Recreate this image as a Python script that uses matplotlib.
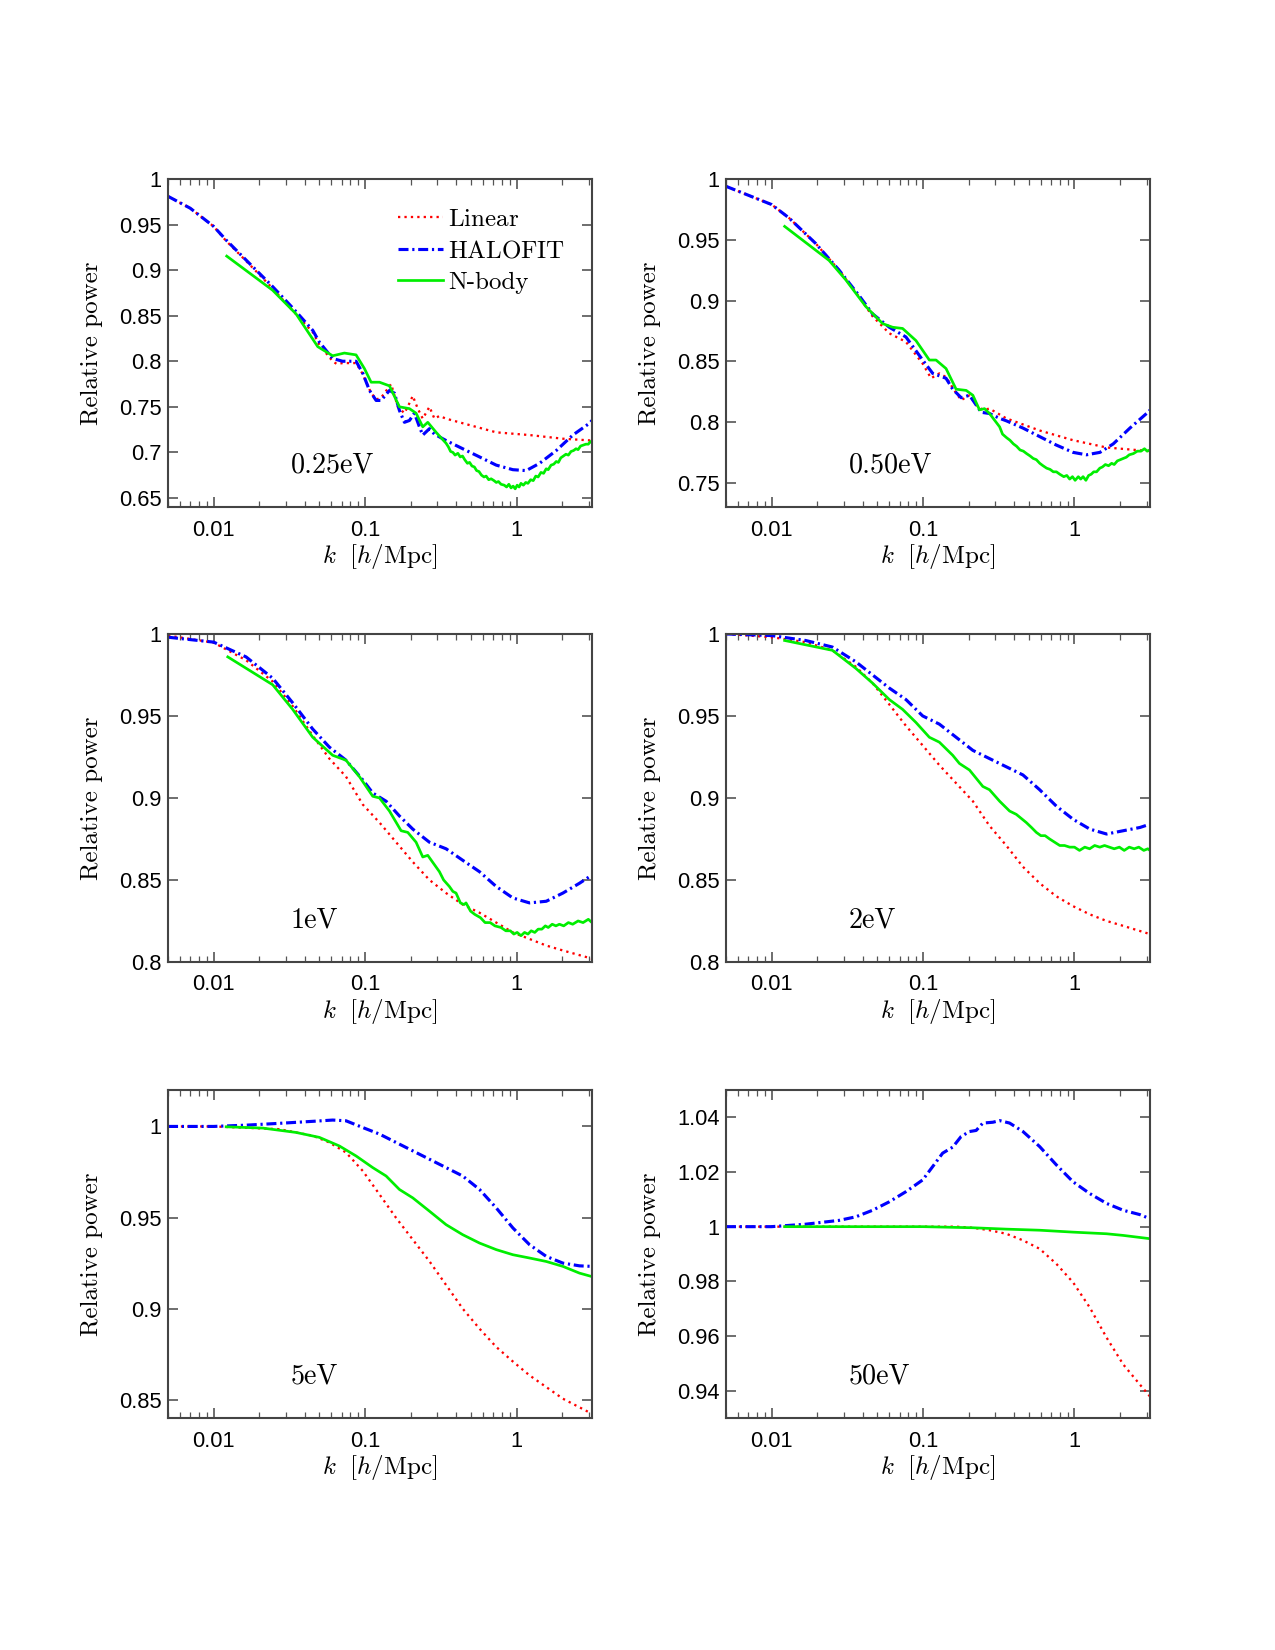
import matplotlib.pyplot as plt
from matplotlib.ticker import FixedLocator, FuncFormatter, LogLocator, NullFormatter

plt.rcParams['mathtext.fontset'] = 'cm'
plt.rcParams['font.family'] = ['Liberation Sans', 'DejaVu Sans']

# ---- 0.25 eV ----
k_lin_025 = [0.005, 0.007, 0.01, 0.0121, 0.0164, 0.0245, 0.0335, 0.0451, 0.0499, 0.0611, 0.065, 0.0711,
             0.0872, 0.0965, 0.1069, 0.1124, 0.1183, 0.1276, 0.1486, 0.1644, 0.1819, 0.1963, 0.2065,
             0.2228, 0.2404, 0.2661, 0.2871, 0.3098, 0.3427, 0.4412, 0.7345, 1.219, 2.024, 3.15]
p_lin_025 = [0.981, 0.968, 0.948, 0.932, 0.910, 0.880, 0.855, 0.832, 0.818, 0.800, 0.797, 0.798,
             0.798, 0.786, 0.769, 0.763, 0.758, 0.760, 0.775, 0.750, 0.743, 0.754, 0.762,
             0.748, 0.737, 0.750, 0.737, 0.740, 0.737, 0.732, 0.722, 0.719, 0.715, 0.713]
k_hf_025 = [0.005, 0.007, 0.01, 0.0121, 0.0164, 0.0245, 0.0335, 0.0451, 0.0499, 0.0611, 0.0711, 0.0872,
            0.0965, 0.1069, 0.1183, 0.1276, 0.1449, 0.1563, 0.1686, 0.1819, 0.1963, 0.2118, 0.2285,
            0.2404, 0.2661, 0.2871, 0.3427, 0.4412, 0.570, 0.7345, 0.9463, 1.159, 1.420, 1.829,
            2.355, 3.036, 3.15]
p_hf_025 = [0.981, 0.968, 0.948, 0.933, 0.911, 0.882, 0.858, 0.834, 0.821, 0.803, 0.800, 0.800,
            0.787, 0.768, 0.757, 0.757, 0.768, 0.765, 0.746, 0.733, 0.735, 0.743, 0.728,
            0.719, 0.726, 0.720, 0.713, 0.704, 0.695, 0.686, 0.681, 0.680, 0.688, 0.702,
            0.719, 0.732, 0.735]
k_nb_025 = [0.0122, 0.0245, 0.035, 0.0487, 0.0611, 0.073, 0.0872, 0.099, 0.1096, 0.1245, 0.1449,
            0.1686, 0.1963, 0.2172, 0.2404, 0.2594, 0.2945, 0.3427, 0.355, 0.367, 0.38, 0.393,
            0.41, 0.425, 0.44, 0.455, 0.474, 0.49, 0.508, 0.527, 0.545, 0.565, 0.587, 0.61,
            0.63, 0.655, 0.68, 0.71, 0.735, 0.76, 0.79, 0.83, 0.86, 0.89, 0.92, 0.95, 0.98,
            1.01, 1.04, 1.07, 1.11, 1.15, 1.19, 1.24, 1.29, 1.34, 1.39, 1.45, 1.51, 1.57,
            1.62, 1.69, 1.76, 1.83, 1.89, 1.96, 2.04, 2.12, 2.2, 2.29, 2.38, 2.47, 2.55,
            2.65, 2.76, 2.87, 2.98, 3.08, 3.15]
p_nb_025 = [0.9154, 0.878, 0.852, 0.816, 0.806, 0.809, 0.807, 0.792, 0.777, 0.777, 0.773,
            0.750, 0.748, 0.743, 0.728, 0.733, 0.722, 0.710, 0.706, 0.701, 0.700, 0.697,
            0.699, 0.695, 0.696, 0.692, 0.688, 0.689, 0.685, 0.684, 0.680, 0.679, 0.675, 0.673,
            0.674, 0.670, 0.671, 0.669, 0.667, 0.668, 0.665, 0.664, 0.662, 0.665, 0.661, 0.663, 0.660,
            0.664, 0.662, 0.666, 0.664, 0.667, 0.666, 0.670, 0.669, 0.674, 0.673, 0.678, 0.677, 0.682,
            0.681, 0.686, 0.687, 0.690, 0.689, 0.694, 0.696, 0.698, 0.697, 0.701, 0.702, 0.704, 0.703,
            0.707, 0.708, 0.709, 0.709, 0.712, 0.711]

# ---- 0.50 eV ----
k_lin_050 = [0.005, 0.01, 0.01303, 0.01954, 0.02791, 0.03786, 0.04643, 0.05989, 0.0771, 0.0995,
             0.113, 0.1282, 0.1419, 0.1612, 0.1786, 0.2028, 0.2244, 0.2483, 0.2748, 0.3546,
             0.5891, 0.9795, 1.63, 3.15]
p_lin_050 = [0.994, 0.979, 0.968, 0.947, 0.925, 0.903, 0.887, 0.873, 0.866, 0.848,
             0.836, 0.840, 0.837, 0.826, 0.818, 0.822, 0.814, 0.810, 0.811, 0.803,
             0.793, 0.785, 0.779, 0.776]
k_hf_050 = [0.005, 0.01, 0.01303, 0.01954, 0.02791, 0.03786, 0.04643, 0.05989, 0.0771, 0.0995,
            0.1159, 0.1419, 0.1571, 0.1786, 0.2028, 0.2244, 0.2421, 0.2748, 0.3206, 0.3546,
            0.4571, 0.5891, 0.7595, 0.9795, 1.201, 1.473, 1.804, 2.324, 3.12, 3.15]
p_hf_050 = [0.994, 0.979, 0.968, 0.947, 0.925, 0.904, 0.889, 0.878, 0.870, 0.851,
            0.840, 0.836, 0.827, 0.820, 0.822, 0.814, 0.808, 0.807, 0.803, 0.801,
            0.795, 0.788, 0.781, 0.775, 0.773, 0.775, 0.782, 0.795, 0.809, 0.810]
k_nb_050 = [0.0122, 0.02397, 0.0309, 0.04193, 0.05408, 0.06298, 0.07332, 0.08985, 0.1101, 0.1219,
            0.1419, 0.1654, 0.1928, 0.2134, 0.236, 0.2547, 0.2748, 0.3206, 0.335, 0.357, 0.375,
            0.395, 0.415, 0.437, 0.46, 0.483, 0.51, 0.534, 0.56, 0.59, 0.62, 0.655, 0.69,
            0.725, 0.76, 0.8, 0.85, 0.89, 0.93, 0.97, 1.01, 1.06, 1.1, 1.14, 1.19, 1.24,
            1.29, 1.34, 1.4, 1.47, 1.53, 1.6, 1.68, 1.76, 1.83, 1.92, 2.01, 2.1, 2.2, 2.3,
            2.45, 2.6, 2.75, 2.9, 3.02, 3.15]
p_nb_050 = [0.961, 0.933, 0.917, 0.895, 0.881, 0.878, 0.877, 0.867, 0.851, 0.851,
            0.844, 0.827, 0.826, 0.822, 0.810, 0.811, 0.807, 0.796, 0.790, 0.787, 0.785,
            0.782, 0.780, 0.777, 0.776, 0.774, 0.772, 0.770, 0.769, 0.766, 0.764, 0.762, 0.761,
            0.759, 0.759, 0.757, 0.755, 0.756, 0.753, 0.755, 0.752, 0.755, 0.753, 0.755, 0.752, 0.756,
            0.757, 0.759, 0.759, 0.762, 0.763, 0.765, 0.764, 0.766, 0.765, 0.768, 0.769, 0.770, 0.771, 0.773,
            0.774, 0.776, 0.776, 0.778, 0.776, 0.777]

# ---- 1 eV ----
k_lin_1 = [0.005, 0.01, 0.01637, 0.02454, 0.03326, 0.0451, 0.05808, 0.07482, 0.09654, 0.1245,
           0.1603, 0.2065, 0.2661, 0.3427, 0.4412, 0.570, 0.7345, 0.9463, 1.219, 1.571, 2.024, 3.15]
p_lin_1 = [0.999, 0.9947, 0.984, 0.971, 0.956, 0.938, 0.924, 0.913, 0.896, 0.885,
           0.873, 0.861, 0.850, 0.842, 0.835, 0.830, 0.824, 0.818, 0.814, 0.810, 0.807, 0.802]
k_hf_1 = [0.005, 0.01, 0.01637, 0.02454, 0.03326, 0.0451, 0.05808, 0.07482, 0.09654, 0.1124,
          0.1377, 0.1686, 0.2065, 0.2661, 0.3427, 0.4412, 0.570, 0.7345, 0.9463, 1.219, 1.571,
          2.024, 2.606, 3.15]
p_hf_1 = [0.998, 0.995, 0.986, 0.973, 0.958, 0.942, 0.931, 0.923, 0.911, 0.903,
          0.898, 0.889, 0.881, 0.873, 0.869, 0.862, 0.855, 0.846, 0.839, 0.836, 0.837,
          0.842, 0.848, 0.853]
k_nb_1 = [0.0124, 0.02454, 0.03326, 0.0451, 0.0611, 0.07482, 0.09175, 0.1124, 0.1245, 0.1449,
          0.1729, 0.1914, 0.2172, 0.2404, 0.2594, 0.3098, 0.33, 0.3604, 0.38, 0.3988, 0.426,
          0.45, 0.4641, 0.497, 0.53, 0.578, 0.62, 0.67, 0.72, 0.79, 0.85, 0.91, 0.96, 1.01,
          1.07, 1.13, 1.19, 1.25, 1.32, 1.39, 1.47, 1.55, 1.62, 1.72, 1.82, 1.92, 2.05,
          2.2, 2.35, 2.55, 2.75, 2.98, 3.15]
p_nb_1 = [0.986, 0.969, 0.954, 0.937, 0.926, 0.923, 0.913, 0.901, 0.900, 0.892,
          0.880, 0.879, 0.873, 0.864, 0.865, 0.855, 0.850, 0.846, 0.843, 0.842, 0.836,
          0.835, 0.836, 0.831, 0.829, 0.827, 0.824, 0.824, 0.822, 0.821, 0.819, 0.819, 0.817, 0.818,
          0.816, 0.818, 0.817, 0.819, 0.818, 0.820, 0.820, 0.822, 0.821, 0.823, 0.822, 0.823, 0.822,
          0.824, 0.823, 0.825, 0.824, 0.826, 0.824]

# ---- 2 eV ----
k_lin_2 = [0.005, 0.01, 0.01679, 0.02522, 0.036, 0.04643, 0.05989, 0.0771, 0.0995, 0.1282,
           0.1654, 0.2134, 0.2748, 0.3546, 0.4571, 0.5891, 0.7595, 0.9795, 1.263, 1.63, 2.099, 3.15]
p_lin_2 = [1.0, 0.998, 0.995, 0.990, 0.980, 0.970, 0.957, 0.944, 0.932, 0.920,
           0.909, 0.898, 0.883, 0.871, 0.858, 0.848, 0.840, 0.834, 0.829, 0.825, 0.822, 0.817]
k_hf_2 = [0.005, 0.01, 0.01679, 0.02522, 0.036, 0.04643, 0.05989, 0.0771, 0.0995, 0.1282,
          0.1654, 0.2134, 0.2748, 0.3546, 0.4571, 0.5891, 0.7595, 0.9795, 1.263, 1.63, 2.099,
          2.708, 3.15]
p_hf_2 = [1.0, 0.999, 0.996, 0.992, 0.983, 0.975, 0.967, 0.960, 0.950, 0.945,
          0.937, 0.929, 0.924, 0.919, 0.914, 0.905, 0.895, 0.887, 0.881, 0.878, 0.880,
          0.882, 0.884]
k_nb_2 = [0.0122, 0.02522, 0.036, 0.04643, 0.05989, 0.07332, 0.08985, 0.1101, 0.1282, 0.1571,
          0.174, 0.2028, 0.2483, 0.2748, 0.3206, 0.373, 0.4128, 0.4808, 0.52, 0.56, 0.6,
          0.64, 0.685, 0.74, 0.8, 0.86, 0.93, 1.0, 1.08, 1.17, 1.26, 1.36, 1.47, 1.58,
          1.7, 1.83, 1.98, 2.13, 2.3, 2.48, 2.66, 2.87, 3.05, 3.15]
p_nb_2 = [0.996, 0.990, 0.979, 0.970, 0.960, 0.954, 0.946, 0.937, 0.934, 0.926,
          0.921, 0.917, 0.907, 0.905, 0.898, 0.892, 0.890, 0.885, 0.882, 0.879, 0.877,
          0.877, 0.875, 0.873, 0.871, 0.871, 0.870, 0.870, 0.868, 0.870, 0.869, 0.871, 0.870, 0.871,
          0.870, 0.869, 0.870, 0.868, 0.870, 0.869, 0.870, 0.868, 0.869, 0.868]

# ---- 5 eV ----
k_lin_5 = [0.005, 0.01, 0.02716, 0.0451, 0.05808, 0.07482, 0.09654, 0.1245, 0.1603, 0.2065,
           0.2661, 0.3427, 0.4412, 0.570, 0.7345, 0.9463, 1.219, 1.571, 2.024, 3.15]
p_lin_5 = [1.0, 1.0, 0.9985, 0.9949, 0.9912, 0.9857, 0.9756, 0.9627, 0.9498, 0.9379,
           0.926, 0.913, 0.900, 0.889, 0.879, 0.871, 0.8634, 0.857, 0.8506, 0.8423]
k_hf_5 = [0.005, 0.01, 0.01637, 0.02716, 0.0451, 0.0611, 0.07482, 0.09654, 0.1245, 0.1603,
          0.2065, 0.2661, 0.3427, 0.4412, 0.570, 0.7345, 0.9463, 1.219, 1.571, 2.024, 2.606, 3.15]
p_hf_5 = [1.0, 1.0, 1.0007, 1.0017, 1.0028, 1.0035, 1.0031, 0.9994, 0.9958, 0.9912,
          0.9866, 0.982, 0.9774, 0.9728, 0.9654, 0.9553, 0.9443, 0.9351, 0.9287, 0.925, 0.9235, 0.9232]
k_nb_5 = [0.0121, 0.0211, 0.035, 0.0499, 0.0676, 0.0872, 0.1124, 0.1377, 0.1686, 0.2065,
          0.2661, 0.3427, 0.4412, 0.570, 0.7345, 0.9463, 1.219, 1.571, 2.024, 2.606, 3.15]
p_nb_5 = [0.9998, 0.9991, 0.9967, 0.994, 0.9893, 0.9838, 0.9774, 0.9728, 0.9654, 0.9608,
          0.9535, 0.9461, 0.9406, 0.936, 0.9324, 0.9296, 0.9278, 0.9259, 0.9232, 0.9195, 0.9176]

# ---- 50 eV ----
k_lin_50 = [0.005, 0.01, 0.05, 0.1654, 0.2134, 0.2748, 0.3546, 0.4571, 0.5891, 0.7595,
            0.9795, 1.263, 1.63, 2.099, 2.708, 3.15]
p_lin_50 = [1.0, 1.0, 1.0, 1.0, 0.9996, 0.9987, 0.9974, 0.995, 0.9919, 0.9864,
            0.9796, 0.9704, 0.9594, 0.9496, 0.9422, 0.9379]
k_hf_50 = [0.005, 0.01, 0.01679, 0.02791, 0.036, 0.04643, 0.05989, 0.0771, 0.0995, 0.1159,
           0.1348, 0.1571, 0.1786, 0.2028, 0.2244, 0.2483, 0.2891, 0.3206, 0.373, 0.4571,
           0.5891, 0.7595, 0.9795, 1.263, 1.63, 2.099, 2.708, 3.15]
p_hf_50 = [1.0, 1.0, 1.0009, 1.0023, 1.0036, 1.006, 1.0091, 1.0128, 1.0171, 1.022,
           1.0269, 1.0291, 1.033, 1.0348, 1.0352, 1.0379, 1.0382, 1.0388, 1.0379, 1.0348,
           1.0293, 1.0226, 1.0164, 1.0121, 1.0085, 1.006, 1.0044, 1.0029]
k_nb_50 = [0.0122, 0.1, 0.2134, 0.3546, 0.5891, 0.9795, 1.63, 2.099, 3.15]
p_nb_50 = [1.0, 1.0, 0.9996, 0.9991, 0.9987, 0.998, 0.9974, 0.9968, 0.9956]

labels = ["0.25eV", "0.50eV", "1eV", "2eV", "5eV", "50eV"]
ylims = [(0.64, 1.0), (0.73, 1.0), (0.8, 1.0), (0.8, 1.0), (0.84, 1.02), (0.93, 1.05)]
yticks = [[0.65, 0.7, 0.75, 0.8, 0.85, 0.9, 0.95, 1.0],
          [0.75, 0.8, 0.85, 0.9, 0.95, 1.0],
          [0.8, 0.85, 0.9, 0.95, 1.0],
          [0.8, 0.85, 0.9, 0.95, 1.0],
          [0.85, 0.9, 0.95, 1.0],
          [0.94, 0.96, 0.98, 1.0, 1.02, 1.04]]
series = [
    (k_lin_025, p_lin_025, k_hf_025, p_hf_025, k_nb_025, p_nb_025),
    (k_lin_050, p_lin_050, k_hf_050, p_hf_050, k_nb_050, p_nb_050),
    (k_lin_1, p_lin_1, k_hf_1, p_hf_1, k_nb_1, p_nb_1),
    (k_lin_2, p_lin_2, k_hf_2, p_hf_2, k_nb_2, p_nb_2),
    (k_lin_5, p_lin_5, k_hf_5, p_hf_5, k_nb_5, p_nb_5),
    (k_lin_50, p_lin_50, k_hf_50, p_hf_50, k_nb_50, p_nb_50),
]


def draw_panel(ax, data, label, ylim, ticks, legend=False):
    kl, pl, kh, ph, kn, pn = data
    ax.plot(kl, pl, color='#ff0000', lw=1.1, ls=(0, (1, 1.8)), label=r'$\mathrm{Linear}$')
    ax.plot(kh, ph, color='#0000ff', lw=1.5, ls=(0, (3.2, 1.2, 0.7, 1.2)),
            label=r'$\mathrm{HALOFIT}$')
    ax.plot(kn, pn, color='#00ee00', lw=1.3, ls='-', label='N-body')
    ax.set_xscale('log')
    ax.set_xlim(0.005, 3.15)
    ax.set_ylim(*ylim)
    ax.xaxis.set_major_locator(FixedLocator([0.01, 0.1, 1]))
    ax.xaxis.set_major_formatter(FuncFormatter(lambda v, p: '%g' % round(v, 4)))
    ax.xaxis.set_minor_locator(LogLocator(base=10, subs=range(2, 10)))
    ax.xaxis.set_minor_formatter(NullFormatter())
    ax.yaxis.set_major_locator(FixedLocator(ticks))
    ax.yaxis.set_major_formatter(FuncFormatter(lambda v, p: '%g' % round(v, 4)))
    ax.tick_params(which='both', direction='in', top=True, right=True,
                   colors='#555555', labelcolor='black', labelsize=10.5)
    ax.tick_params(which='major', length=5, width=0.8)
    ax.tick_params(which='minor', length=3, width=0.6)
    ax.tick_params(axis='x', pad=6)
    ax.tick_params(axis='y', pad=3)
    for s in ax.spines.values():
        s.set_color('#444444')
        s.set_linewidth(1.0)
    ax.set_ylabel('Relative power', family='cmr10', fontsize=12, va='center')
    ax.yaxis.set_label_coords(-0.179, 0.5)
    ax.set_xlabel(r'$k\ \ [h/\mathrm{Mpc}]$', fontsize=12, va='center')
    ax.xaxis.set_label_coords(0.5, -0.152)
    ax.text(0.29, 0.105, label, transform=ax.transAxes, family='cmr10',
            fontsize=13.5, ha='left', va='baseline')
    if legend:
        ax.legend(loc='upper left', bbox_to_anchor=(0.52, 0.94), frameon=False,
                  prop={'family': 'cmr10', 'size': 12}, handlelength=1.8,
                  handletextpad=0.2, labelspacing=0.35, borderaxespad=0)


fig = plt.figure(figsize=(8.5, 11), dpi=150)
lefts = [0.1318, 0.5694]
bottoms = [0.6927, 0.4170, 0.1406]
w, h = 0.3325, 0.1988
for i in range(6):
    ax = fig.add_axes([lefts[i % 2], bottoms[i // 2], w, h])
    draw_panel(ax, series[i], labels[i], ylims[i], yticks[i], legend=(i == 0))

fig.savefig('out.png', dpi=150)
